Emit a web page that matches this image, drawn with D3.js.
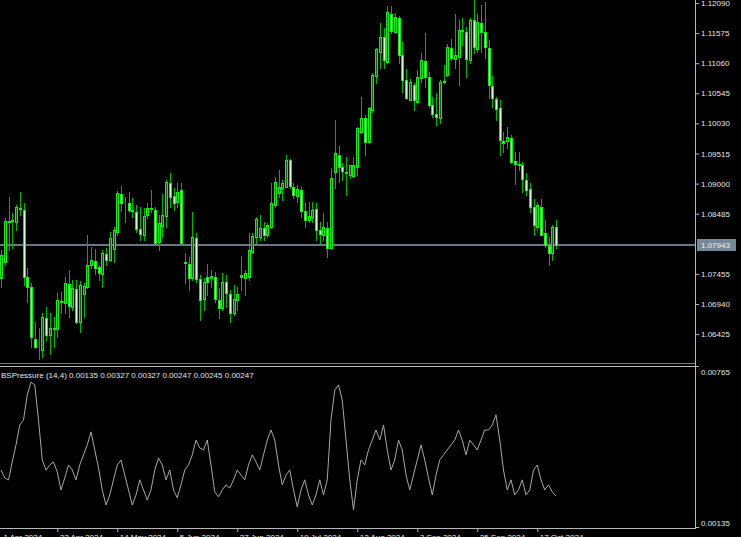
<!DOCTYPE html>
<html><head><meta charset="utf-8">
<script src="https://cdn.jsdelivr.net/npm/d3@7"></script>
<style>html,body{margin:0;padding:0;background:#000;overflow:hidden}svg{display:block}</style>
</head><body><svg id="c" width="741" height="537"></svg>
<script>
// EURUSD daily, 1 Apr 2024 .. 24 Oct 2024 : [open, high, low, close]
const ohlc = [
[1.0738,1.0786,1.0723,1.0778],[1.0766,1.0841,1.0761,1.0836],[1.0834,1.0877,1.0786,1.0836],[1.0836,1.0850,1.0790,1.0838],
[1.0834,1.0863,1.0821,1.0860],[1.0858,1.0886,1.0846,1.0857],[1.0855,1.0867,1.0727,1.0740],[1.0740,1.0756,1.0697,1.0723],
[1.0723,1.0730,1.0620,1.0638],[1.0634,1.0663,1.0619,1.0620],[1.0620,1.0653,1.0600,1.0621],[1.0615,1.0679,1.0603,1.0672],
[1.0670,1.0689,1.0632,1.0641],[1.0641,1.0679,1.0608,1.0653],[1.0653,1.0672,1.0620,1.0652],[1.0651,1.0713,1.0638,1.0701],
[1.0699,1.0715,1.0679,1.0697],[1.0696,1.0740,1.0679,1.0730],[1.0728,1.0752,1.0672,1.0691],[1.0689,1.0735,1.0684,1.0721],
[1.0720,1.0735,1.0661,1.0663],[1.0663,1.0733,1.0646,1.0727],[1.0711,1.0730,1.0672,1.0725],[1.0723,1.0812,1.0721,1.0761],
[1.0761,1.0792,1.0756,1.0769],[1.0768,1.0788,1.0745,1.0756],[1.0757,1.0761,1.0735,1.0747],[1.0745,1.0786,1.0723,1.0781],
[1.0780,1.0790,1.0761,1.0769],[1.0769,1.0817,1.0768,1.0807],[1.0788,1.0826,1.0766,1.0821],[1.0817,1.0887,1.0812,1.0884],
[1.0882,1.0896,1.0853,1.0867],[1.0867,1.0877,1.0834,1.0866],[1.0867,1.0886,1.0851,1.0855],[1.0854,1.0875,1.0843,1.0853],
[1.0851,1.0863,1.0817,1.0822],[1.0822,1.0860,1.0803,1.0814],[1.0812,1.0858,1.0803,1.0845],[1.0846,1.0867,1.0841,1.0858],
[1.0858,1.0889,1.0851,1.0857],[1.0855,1.0860,1.0798,1.0798],[1.0800,1.0846,1.0786,1.0833],[1.0827,1.0882,1.0809,1.0846],
[1.0845,1.0906,1.0826,1.0903],[1.0901,1.0918,1.0860,1.0877],[1.0879,1.0892,1.0855,1.0867],[1.0868,1.0901,1.0860,1.0886],
[1.0889,1.0901,1.0796,1.0798],[1.0766,1.0781,1.0730,1.0765],[1.0762,1.0774,1.0718,1.0738],[1.0738,1.0851,1.0735,1.0809],
[1.0807,1.0815,1.0732,1.0737],[1.0737,1.0744,1.0667,1.0701],[1.0703,1.0738,1.0684,1.0732],[1.0740,1.0762,1.0709,1.0732],
[1.0738,1.0752,1.0723,1.0742],[1.0740,1.0749,1.0697,1.0703],[1.0701,1.0721,1.0670,1.0687],[1.0687,1.0747,1.0684,1.0732],
[1.0732,1.0744,1.0689,1.0713],[1.0711,1.0718,1.0663,1.0679],[1.0679,1.0727,1.0675,1.0703],[1.0701,1.0723,1.0684,1.0711],
[1.0740,1.0776,1.0718,1.0744],[1.0738,1.0752,1.0709,1.0747],[1.0740,1.0815,1.0735,1.0786],[1.0783,1.0815,1.0781,1.0810],
[1.0809,1.0843,1.0798,1.0839],[1.0809,1.0846,1.0803,1.0824],[1.0824,1.0834,1.0803,1.0812],[1.0812,1.0833,1.0809,1.0829],
[1.0826,1.0901,1.0824,1.0867],[1.0863,1.0911,1.0860,1.0903],[1.0884,1.0923,1.0877,1.0894],[1.0892,1.0906,1.0872,1.0901],
[1.0894,1.0949,1.0894,1.0940],[1.0940,1.0942,1.0892,1.0896],[1.0894,1.0901,1.0875,1.0881],[1.0879,1.0898,1.0868,1.0891],
[1.0889,1.0894,1.0843,1.0853],[1.0853,1.0867,1.0826,1.0838],[1.0838,1.0868,1.0834,1.0845],[1.0843,1.0868,1.0834,1.0855],
[1.0857,1.0867,1.0803,1.0821],[1.0821,1.0834,1.0798,1.0814],[1.0812,1.0850,1.0803,1.0826],[1.0824,1.0834,1.0774,1.0790],
[1.0790,1.0927,1.0788,1.0910],[1.0920,1.1009,1.0892,1.0952],[1.0949,1.0964,1.0903,1.0928],[1.0928,1.0935,1.0906,1.0922],
[1.0918,1.0946,1.0881,1.0920],[1.0915,1.0932,1.0910,1.0932],[1.0913,1.0946,1.0911,1.0932],[1.0928,1.0997,1.0915,1.0995],
[1.0988,1.1048,1.0987,1.1012],[1.1012,1.1017,1.0949,1.0971],[1.0971,1.1031,1.0969,1.1029],[1.1026,1.1089,1.1022,1.1086],
[1.1084,1.1132,1.1072,1.1130],[1.1125,1.1175,1.1098,1.1151],[1.1151,1.1166,1.1098,1.1111],[1.1108,1.1204,1.1106,1.1194],
[1.1190,1.1204,1.1158,1.1161],[1.1159,1.1192,1.1158,1.1185],[1.1183,1.1187,1.1106,1.1120],[1.1120,1.1142,1.1057,1.1077],
[1.1077,1.1096,1.1045,1.1046],[1.1043,1.1079,1.1043,1.1074],[1.1069,1.1072,1.1026,1.1043],[1.1040,1.1094,1.1038,1.1082],
[1.1081,1.1123,1.1074,1.1111],[1.1110,1.1158,1.1065,1.1082],[1.1082,1.1091,1.1031,1.1034],[1.1034,1.1048,1.1014,1.1019],
[1.1019,1.1055,1.1000,1.1014],[1.1012,1.1077,1.1004,1.1074],[1.1074,1.1103,1.1072,1.1075],[1.1086,1.1139,1.1084,1.1134],
[1.1132,1.1147,1.1111,1.1115],[1.1113,1.1190,1.1098,1.1120],[1.1117,1.1180,1.1069,1.1163],[1.1163,1.1183,1.1137,1.1161],
[1.1159,1.1168,1.1082,1.1113],[1.1111,1.1183,1.1106,1.1180],[1.1180,1.1214,1.1123,1.1134],[1.1130,1.1190,1.1125,1.1177],
[1.1175,1.1206,1.1125,1.1159],[1.1159,1.1211,1.1115,1.1134],[1.1132,1.1146,1.1046,1.1069],[1.1067,1.1084,1.1031,1.1046],
[1.1045,1.1048,1.1009,1.1028],[1.1029,1.1043,1.0949,1.0975],[1.0973,1.0988,1.0954,1.0969],[1.0973,1.0997,1.0961,1.0980],
[1.0978,1.0983,1.0935,1.0937],[1.0939,1.0954,1.0899,1.0934],[1.0934,1.0954,1.0923,1.0932],[1.0932,1.0937,1.0886,1.0908],
[1.0906,1.0918,1.0881,1.0889],[1.0891,1.0901,1.0851,1.0860],[1.0860,1.0874,1.0812,1.0829],[1.0826,1.0868,1.0821,1.0863],
[1.0860,1.0874,1.0812,1.0812],[1.0815,1.0838,1.0792,1.0795],[1.0795,1.0809,1.0761,1.0781],[1.0781,1.0829,1.0769,1.0826],
[1.0826,1.0838,1.0790,1.07943]
];
const bsPressure = [
0.00356,0.00323,0.00315,0.00390,0.00461,0.00544,0.00565,0.00669,0.00723,0.00711,
0.00565,0.00398,0.00356,0.00377,0.00390,0.00348,0.00273,0.00323,0.00377,0.00356,
0.00315,0.00377,0.00419,0.00461,0.00515,0.00440,0.00365,0.00273,0.00210,0.00252,
0.00315,0.00377,0.00398,0.00335,0.00273,0.00210,0.00252,0.00315,0.00273,0.00231,
0.00273,0.00356,0.00406,0.00377,0.00315,0.00356,0.00273,0.00240,0.00294,0.00356,
0.00377,0.00419,0.00481,0.00448,0.00440,0.00481,0.00377,0.00265,0.00244,0.00273,
0.00294,0.00281,0.00315,0.00356,0.00335,0.00315,0.00377,0.00419,0.00390,0.00356,
0.00419,0.00481,0.00523,0.00481,0.00377,0.00294,0.00335,0.00356,0.00273,0.00202,
0.00273,0.00315,0.00252,0.00210,0.00252,0.00315,0.00252,0.00315,0.00565,0.00690,
0.00711,0.00648,0.00481,0.00315,0.00190,0.00315,0.00398,0.00377,0.00440,0.00481,
0.00523,0.00481,0.00544,0.00440,0.00356,0.00398,0.00481,0.00440,0.00335,0.00273,
0.00335,0.00398,0.00461,0.00398,0.00323,0.00252,0.00335,0.00398,0.00419,0.00440,
0.00461,0.00481,0.00523,0.00481,0.00419,0.00481,0.00461,0.00440,0.00481,0.00523,
0.00523,0.00544,0.00586,0.00481,0.00356,0.00273,0.00315,0.00252,0.00273,0.00315,
0.00252,0.00273,0.00356,0.00377,0.00315,0.00273,0.00294,0.00265,0.00247
];
const priceTicks = [1.12090,1.11575,1.11060,1.10545,1.10030,1.09515,1.09000,1.08485,1.07455,1.06940,1.06425];
const bidPrice = 1.07943;
const indTicks = [0.00765, 0.00135];
const dateTickBars = [0,15,31,47,63,79,95,111,127,143];
const dateTickLabels = ["1 Apr 2024","22 Apr 2024","14 May 2024","5 Jun 2024","27 Jun 2024","19 Jul 2024","12 Aug 2024","3 Sep 2024","25 Sep 2024","17 Oct 2024"];
const indicatorTitle = "BSPressure (14,4) 0.00135 0.00327 0.00327 0.00247 0.00245 0.00247";

const svg = d3.select("#c");
const W = 741, H = 537, plotR = 695;
const mainTop = 0, mainBot = 363, indTop = 367, indBot = 528;
const FONT = "'Liberation Sans', Arial, sans-serif";
const TXT = "#e6e6e6", AX = "#b8b8b8";

svg.append("rect").attr("width", W).attr("height", H).attr("fill", "#000");

const x = d3.scaleLinear().domain([0, ohlc.length - 1]).range([1, 556]);
const y = d3.scaleLinear().domain([1.05931, 1.12141]).range([mainBot, mainTop]);
const yi = d3.scaleLinear().domain([0.00135, 0.00765]).range([523, 372]);

svg.append("clipPath").attr("id", "mc").append("rect").attr("x", 0).attr("y", 0).attr("width", plotR).attr("height", mainBot);
svg.append("clipPath").attr("id", "ic").append("rect").attr("x", 0).attr("y", indTop + 1).attr("width", plotR).attr("height", indBot - indTop - 1);

// bid line
const by = Math.round(y(bidPrice));
svg.append("line").attr("x1", 0).attr("x2", plotR).attr("y1", by).attr("y2", by)
  .attr("stroke", "#6a7683").attr("stroke-width", 2);

// candles
const gC = svg.append("g").attr("clip-path", "url(#mc)");
ohlc.forEach((d, i) => {
  const [o, h, l, c] = d;
  const cx = Math.round(x(i));
  gC.append("line").attr("x1", cx + 0.5).attr("x2", cx + 0.5)
    .attr("y1", Math.round(y(h))).attr("y2", Math.round(y(l)) + 1)
    .attr("stroke", "#00b400").attr("stroke-width", 1);
  const t = Math.round(y(Math.max(o, c))), b = Math.round(y(Math.min(o, c)));
  gC.append("rect").attr("x", cx - 0.5).attr("y", t + 0.5).attr("width", 2).attr("height", Math.max(0, b - t))
    .attr("fill", c >= o ? "#006b00" : "#c6ffc6").attr("stroke", "#1ee61e").attr("stroke-width", 1);
});

// panel borders
svg.append("line").attr("x1", 0).attr("x2", plotR).attr("y1", mainBot + 0.5).attr("y2", mainBot + 0.5).attr("stroke", "#7a7a7a");
svg.append("line").attr("x1", 0).attr("x2", plotR + 1).attr("y1", indTop - 0.5).attr("y2", indTop - 0.5).attr("stroke", AX);

// right price axis
const ra = svg.append("g").attr("transform", `translate(${plotR},0)`)
  .call(d3.axisRight(y).tickValues(priceTicks).tickFormat(d3.format(".5f")).tickSize(4).tickPadding(2));
ra.select(".domain").attr("stroke", AX).attr("d", `M0.5,${mainTop}V${indBot}`);
ra.selectAll(".tick line").attr("stroke", AX);
ra.selectAll(".tick text").attr("fill", TXT).style("font", `8px ${FONT}`);

// bid price label
const bl = svg.append("g");
bl.append("rect").attr("x", 697).attr("y", by - 6).attr("width", 39).attr("height", 12).attr("fill", "#778899");
bl.append("text").attr("x", 701).attr("y", by + 3).attr("fill", "#f0f0f0").style("font", `8px ${FONT}`).text(d3.format(".5f")(bidPrice));

// indicator
const gI = svg.append("g").attr("clip-path", "url(#ic)");
gI.append("path").datum(bsPressure)
  .attr("d", d3.line().x((d, i) => x(i)).y(d => yi(d)))
  .attr("fill", "none").attr("stroke", "#a8a8a8").attr("stroke-width", 1);

svg.append("text").attr("x", 1).attr("y", 378).attr("fill", TXT).style("font", `8px ${FONT}`).text(indicatorTitle);

const ia = svg.append("g").attr("transform", `translate(${plotR},0)`);
ia.selectAll("text").data(indTicks).join("text")
  .attr("x", 6).attr("y", d => yi(d) + 3).attr("fill", TXT).style("font", `8px ${FONT}`)
  .text(d => d3.format(".5f")(d));
ia.selectAll("line").data(indTicks).join("line")
  .attr("x1", 0).attr("x2", 4).attr("y1", (d, i) => i ? indBot - 0.5 : indTop - 0.5).attr("y2", (d, i) => i ? indBot - 0.5 : indTop - 0.5)
  .attr("stroke", AX);

// bottom time axis (labels mostly below the visible window, as in the reference)
const ba = svg.append("g").attr("transform", `translate(0,${indBot})`)
  .call(d3.axisBottom(x).tickValues(dateTickBars).tickFormat((d, i) => dateTickLabels[i]).tickSize(4).tickPadding(2));
ba.select(".domain").attr("stroke", AX).attr("d", `M0,0.5H${plotR + 1}`);
ba.selectAll(".tick line").attr("stroke", AX).attr("opacity", (d, i) => i ? 1 : 0);
ba.selectAll(".tick text").attr("fill", TXT).style("font", `8px ${FONT}`)
  .attr("text-anchor", "start").attr("dx", 2).attr("y", 12).attr("dy", 0);
</script></body></html>
